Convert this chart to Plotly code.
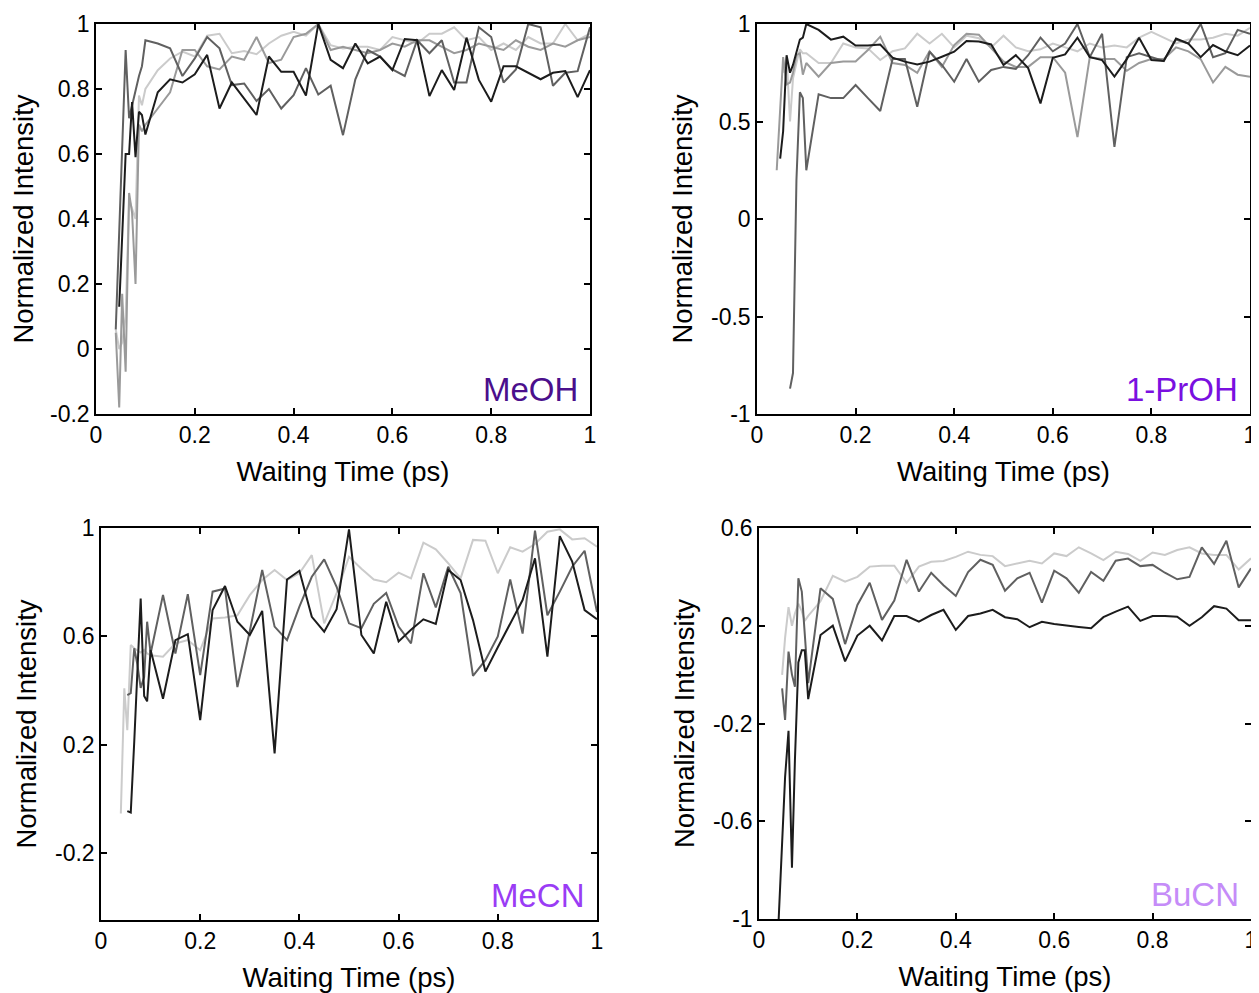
import plotly.graph_objects as go

# waiting times (ps)
T = [0.04, 0.047, 0.053, 0.06, 0.067, 0.073, 0.08, 0.087, 0.093, 0.1,
     0.125, 0.15, 0.175, 0.2, 0.225, 0.25, 0.275, 0.3, 0.325, 0.35,
     0.375, 0.4, 0.425, 0.45, 0.475, 0.5, 0.525, 0.55, 0.575, 0.6,
     0.625, 0.65, 0.675, 0.7, 0.725, 0.75, 0.775, 0.8, 0.825, 0.85,
     0.875, 0.9, 0.925, 0.95, 0.975, 1.0]

# MeOH
meoh_k = [None, 0.13, 0.35, 0.6, 0.6, 0.76, 0.59, 0.73, 0.72, 0.66,
          0.79, 0.83, 0.82, 0.845, 0.905, 0.74, 0.82, 0.77, 0.72, 0.90, 0.853, 0.853, 0.78, 1.0, 0.89, 0.864,
          0.94, 0.879, 0.90, 0.858, 0.954, 0.95, 0.778, 0.858, 0.797, 0.958, 0.828, 0.761, 0.87, 0.87,
          0.85, 0.83, 0.85, 0.855, 0.775, 0.858]
meoh_d = [0.06, 0.35, 0.65, 0.92, 0.71, 0.75, 0.80, 0.84, 0.87, 0.95,
          0.94, 0.925, 0.84, 0.894, 0.96, 0.925, 0.812, 0.817, 0.763, 0.80, 0.74, 0.781, 0.864, 0.783, 0.81, 0.658,
          0.83, 0.92, 0.90, 0.86, 0.84, 0.95, 0.91, 0.95, 0.82, 0.82, 0.99, 0.96, 0.82, 0.86,
          1.0, 0.99, 0.81, 0.85, 0.855, 0.99]
meoh_m = [0.05, -0.18, 0.17, -0.07, 0.48, 0.42, 0.2, 0.69, 0.67, 0.69,
          0.74, 0.79, 0.92, 0.92, 0.87, 0.86, 0.9, 0.89, 0.96, 0.88, 0.89, 0.96, 0.97, 1.0, 0.92, 0.93,
          0.92, 0.91, 0.92, 0.94, 0.93, 0.95, 0.95, 0.93, 0.91, 0.92, 0.94, 0.93, 0.92, 0.95,
          0.93, 0.92, 0.94, 0.93, 0.95, 0.96]
meoh_l = [0.06, 0.0, 0.02, 0.1, 0.46, 0.43, 0.40, 0.78, 0.75, 0.8,
          0.858, 0.894, 0.915, 0.9, 0.964, 0.97, 0.91, 0.917, 0.907, 0.94, 0.964, 0.976, 0.964, 1.0, 0.935, 0.925,
          0.93, 0.93, 0.92, 0.96, 0.95, 0.94, 0.97, 0.97, 0.99, 0.95, 0.96, 0.92, 0.94, 0.92,
          0.96, 0.94, 0.94, 1.0, 0.95, 0.97]

# 1-PrOH
prop_k = [None, 0.31, 0.45, 0.84, 0.75, 0.79, 0.85, 0.92, 0.93, 1.0,
          0.97, 0.92, 0.935, 0.89, 0.89, 0.895, 0.827, 0.807, 0.793, 0.807, 0.832, 0.858, 0.913, 0.91, 0.895, 0.79,
          0.84, 0.774, 0.593, 0.827, 0.844, 0.93, 0.83, 0.815, 0.73, 0.82, 0.93, 0.815, 0.81, 0.926,
          0.9, 0.83, 0.892, 0.86, 0.84, 0.89]
prop_d = [None, None, None, None, -0.87, -0.79, 0.2, 0.65, 0.62, 0.25,
          0.64, 0.62, 0.62, 0.687, 0.62, 0.554, 0.82, 0.82, 0.576, 0.858, 0.79, 0.704, 0.82, 0.704, 0.764, 0.78,
          0.77, 0.84, 0.93, 0.86, 0.9, 1.0, 0.83, 0.95, 0.37, 0.83, 0.85, 0.83, 0.81, 0.92,
          0.9, 1.0, 0.83, 0.85, 0.97, 0.95]
prop_m = [0.25, 0.54, 0.83, 0.69, 0.7, 0.75, 0.84, 0.85, 0.74, 0.8,
          0.73, 0.8, 0.808, 0.808, 0.867, 0.935, 0.8, 0.79, 0.75, 0.86, 0.78, 0.892, 0.95, 0.945, 0.875, 0.808,
          0.78, 0.78, 0.83, 0.83, 0.75, 0.42, 0.83, 0.82, 0.82, 0.76, 0.8, 0.82, 0.82, 0.88,
          0.86, 0.82, 0.7, 0.78, 0.74, 0.73]
prop_l = [None, None, 0.75, 0.83, 0.5, 0.72, 0.8, 0.87, 0.85, 0.85,
          0.8, 0.8, 0.9, 0.88, 0.875, 0.815, 0.86, 0.875, 0.95, 0.9, 0.95, 0.88, 0.94, 0.927, 0.88, 0.94,
          0.88, 0.86, 0.87, 0.9, 0.88, 0.86, 0.9, 0.88, 0.89, 0.88, 0.93, 0.96, 0.93, 0.9,
          0.92, 0.92, 0.93, 0.95, 0.94, 0.98]

# MeCN
mecn_k = [None, None, -0.045, -0.05, 0.21, 0.48, 0.74, 0.38, 0.36, 0.55,
          0.37, 0.586, 0.608, 0.291, 0.697, 0.786, 0.654, 0.605, 0.694, 0.168, 0.81, 0.842, 0.672, 0.617, 0.7, 0.995,
          0.605, 0.537, 0.728, 0.581, 0.624, 0.663, 0.646, 0.845, 0.808, 0.66, 0.47, 0.56, 0.648, 0.734,
          0.888, 0.525, 0.97, 0.876, 0.697, 0.663]
mecn_d = [None, None, 0.383, 0.39, 0.556, 0.5, 0.41, 0.45, 0.654, 0.537,
          0.753, 0.537, 0.756, 0.457, 0.765, 0.777, 0.413, 0.62, 0.845, 0.636, 0.586, 0.71, 0.82, 0.884, 0.783, 0.648,
          0.63, 0.72, 0.76, 0.636, 0.574, 0.833, 0.707, 0.857, 0.76, 0.454, 0.512, 0.6, 0.81, 0.61,
          0.99, 0.678, 0.765, 0.857, 0.916, 0.69]
mecn_l = [-0.054, 0.408, 0.254, 0.568, 0.556, 0.55, 0.54, 0.55, 0.537, 0.53,
          0.525, 0.574, 0.586, 0.549, 0.666, 0.67, 0.678, 0.752, 0.808, 0.845, 0.808, 0.833, 0.9, 0.648, 0.76, 0.894,
          0.85, 0.81, 0.8, 0.835, 0.814, 0.946, 0.921, 0.87, 0.814, 0.956, 0.953, 0.833, 0.929, 0.913,
          0.941, 0.986, 0.995, 0.958, 0.962, 0.931]

# BuCN
bucn_k = [-1.0, -0.65, -0.42, -0.23, -0.79, -0.35, 0.05, 0.1, 0.1, -0.1,
          0.162, 0.2, 0.054, 0.16, 0.2, 0.14, 0.24, 0.24, 0.217, 0.244, 0.265, 0.183, 0.24, 0.25, 0.265, 0.235,
          0.227, 0.194, 0.216, 0.207, 0.2, 0.195, 0.19, 0.235, 0.258, 0.278, 0.22, 0.24, 0.24, 0.237,
          0.2, 0.235, 0.28, 0.27, 0.223, 0.223]
bucn_d = [None, -0.056, -0.185, 0.094, 0.0, -0.05, 0.394, 0.34, 0.15, -0.035,
          0.353, 0.31, 0.125, 0.285, 0.376, 0.224, 0.303, 0.47, 0.34, 0.417, 0.366, 0.322, 0.42, 0.47, 0.449, 0.343,
          0.394, 0.417, 0.295, 0.425, 0.394, 0.335, 0.42, 0.384, 0.466, 0.475, 0.444, 0.449, 0.417, 0.39,
          0.4, 0.521, 0.453, 0.548, 0.357, 0.435]
bucn_l = [None, -0.001, 0.15, 0.276, 0.2, 0.25, 0.29, 0.26, 0.22, 0.24,
          0.3, 0.404, 0.38, 0.4, 0.442, 0.446, 0.446, 0.376, 0.442, 0.462, 0.465, 0.482, 0.503, 0.49, 0.485, 0.444,
          0.455, 0.466, 0.455, 0.496, 0.485, 0.521, 0.496, 0.469, 0.503, 0.494, 0.466, 0.5, 0.49, 0.51,
          0.521, 0.496, 0.49, 0.49, 0.43, 0.476]

x_ticks = [0, 0.2, 0.4, 0.6, 0.8, 1]
x_labels = ['0', '0.2', '0.4', '0.6', '0.8', '1']

LIGHT, MID, DARK, BLACK = '#cbcbcb', '#9a9a9a', '#606060', '#1c1c1c'
FONT = 'Arial, Liberation Sans, sans-serif'

# the page body has an 8px margin, so the figure sits at (8, 8) in the window
OFF = 8
W, H = 1259 - OFF, 993 - OFF


def xdom(left, right):
    return [(left - OFF) / W, (right - OFF) / W]


def ydom(top, bottom):
    return [1 - (bottom - OFF) / H, 1 - (top - OFF) / H]


panels = [
    dict(name='MeOH', color='#4b0f8c', lines=[(meoh_l, LIGHT), (meoh_m, MID), (meoh_d, DARK), (meoh_k, BLACK)],
         yrange=[-0.2, 1.0], yticks=[-0.2, 0, 0.2, 0.4, 0.6, 0.8, 1],
         ylabels=['-0.2', '0', '0.2', '0.4', '0.6', '0.8', '1'],
         xdom=xdom(96, 590), ydom=ydom(24, 414)),
    dict(name='1-PrOH', color='#7a10e0', lines=[(prop_l, LIGHT), (prop_m, MID), (prop_d, DARK), (prop_k, BLACK)],
         yrange=[-1.0, 1.0], yticks=[-1, -0.5, 0, 0.5, 1],
         ylabels=['-1', '-0.5', '0', '0.5', '1'],
         xdom=xdom(757, 1250), ydom=ydom(24, 414)),
    dict(name='MeCN', color='#9a3cf5', lines=[(mecn_l, LIGHT), (mecn_d, DARK), (mecn_k, BLACK)],
         yrange=[-0.447, 1.0], yticks=[-0.2, 0.2, 0.6, 1],
         ylabels=['-0.2', '0.2', '0.6', '1'],
         xdom=xdom(101, 597), ydom=ydom(528, 920)),
    dict(name='BuCN', color='#c58cf8', lines=[(bucn_l, LIGHT), (bucn_d, DARK), (bucn_k, BLACK)],
         yrange=[-1.0, 0.6], yticks=[-1, -0.6, -0.2, 0.2, 0.6],
         ylabels=['-1', '-0.6', '-0.2', '0.2', '0.6'],
         xdom=xdom(759, 1251), ydom=ydom(528, 919)),
]

fig = go.Figure()
layout = dict(
    width=W, height=H,
    margin=dict(l=0, r=0, t=0, b=0, autoexpand=False),
    paper_bgcolor='white', plot_bgcolor='white',
    showlegend=False,
    font=dict(family=FONT, size=23, color='black'),
    annotations=[],
)

axis_style = dict(
    showline=True, linecolor='black', linewidth=1.5, mirror='ticks',
    ticks='inside', ticklen=6, tickwidth=1.5, tickcolor='black',
    showgrid=False, zeroline=False, automargin=False,
    tickfont=dict(family=FONT, size=23, color='black'),
)

for i, p in enumerate(panels):
    n = '' if i == 0 else str(i + 1)
    for values, c in p['lines']:
        fig.add_trace(go.Scatter(
            x=T, y=values, mode='lines',
            line=dict(color=c, width=2),
            xaxis='x' + n, yaxis='y' + n,
            hoverinfo='skip',
        ))
    layout['xaxis' + n] = dict(
        axis_style, domain=p['xdom'], anchor='y' + n, range=[0, 1],
        tickvals=x_ticks, ticktext=x_labels,
        title=dict(text='Waiting Time (ps)', font=dict(family=FONT, size=27.5), standoff=14),
    )
    layout['yaxis' + n] = dict(
        axis_style, domain=p['ydom'], anchor='x' + n, range=p['yrange'],
        tickvals=p['yticks'], ticktext=p['ylabels'],
        title=dict(text='Normalized Intensity', font=dict(family=FONT, size=27.5), standoff=10),
    )
    layout['annotations'].append(dict(
        text=p['name'], xref='x' + n + ' domain', yref='y' + n + ' domain',
        x=0.98, y=0.01, xanchor='right', yanchor='bottom', showarrow=False,
        font=dict(family=FONT, size=33, color=p['color']),
    ))

fig.update_layout(layout)
fig.write_html('out.html')
